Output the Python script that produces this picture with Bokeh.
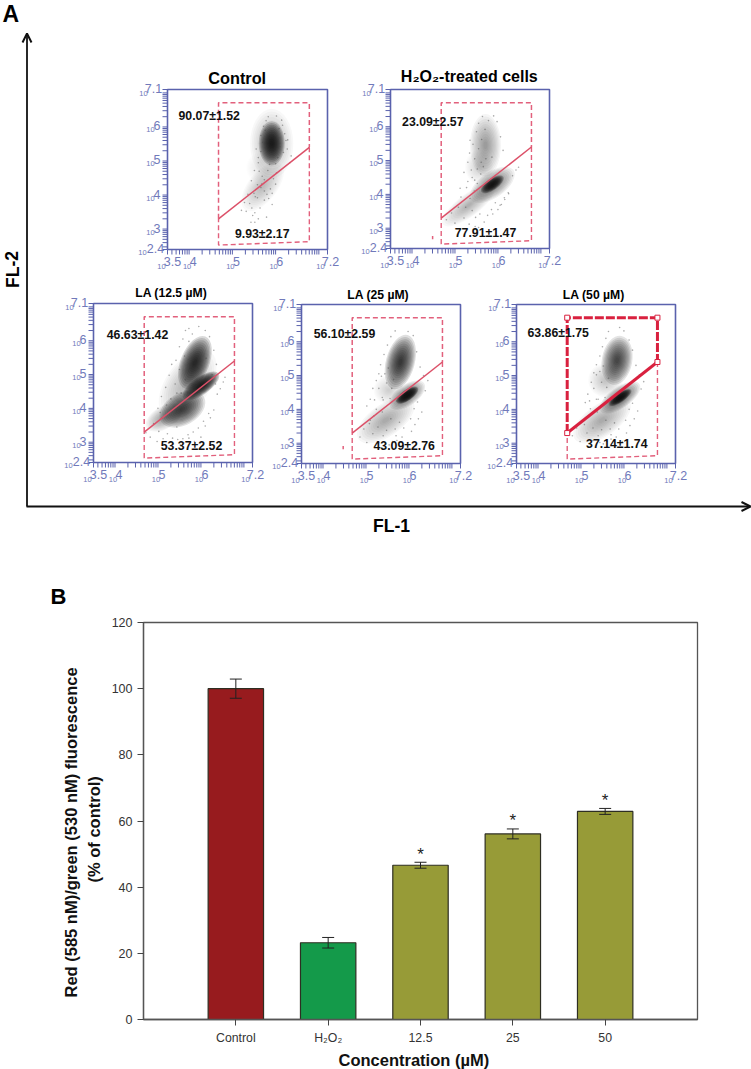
from bokeh.core.properties import value
from bokeh.embed import file_html
from bokeh.layouts import column
from bokeh.models import Arrow, ColumnDataSource, FixedTicker, OpenHead, Range1d, TeeHead, Title, Whisker
from bokeh.plotting import figure
from bokeh.resources import INLINE
import math

FONT = "Liberation Sans"

# ---------- Panel B data ----------
bar_labels = ["Control", "H₂O₂", "12.5", "25", "50"]
bar_values = [100.0, 23.2, 46.63, 56.1, 62.9]
bar_errors = [2.9, 1.6, 0.9, 1.5, 0.9]
bar_colors = ["#971b1e", "#149a4a", "#979b37", "#979b37", "#979b37"]
bar_stars = ["", "", "*", "*", "*"]
y_ticks = [0, 20, 40, 60, 80, 100, 120]

# ---------- Panel A data ----------
panel_names = ["Control", "H₂O₂-treated cells", "LA (12.5 µM)", "LA (25 µM)", "LA (50 µM)"]
upper_pct = ["90.07±1.52", "23.09±2.57", "46.63±1.42", "56.10±2.59", "63.86±1.75"]
lower_pct = ["9.93±2.17", "77.91±1.47", "53.37±2.52", "43.09±2.76", "37.14±1.74"]
decade_labels = ["4", "5", "6"]
y_decade_labels = ["3", "4", "5", "6"]
log_multipliers = [1, 2, 3, 4, 5, 6, 7, 8, 9]

gate_left, gate_right, gate_top = 4.68, 6.78, 6.71
gate_line_left, gate_line_right = 3.30, 5.40
gate_bottom_left, gate_bottom_right = 2.53, 2.63

# density blobs per panel: x, y (log10), long axis (x-dex), short axis (y-dex), angle, darkness
clouds_control = [
    (5.91, 5.51, 1.00, 2.05, 0, 0.30),
    (5.91, 5.52, 0.60, 1.30, 0, 0.92),
    (5.70, 4.25, 1.35, 0.85, 52, 0.26),
    (5.62, 4.80, 0.60, 0.90, 0, 0.08),
]
clouds_h2o2 = [
    (5.71, 5.45, 0.72, 1.85, 0, 0.42),
    (5.56, 4.81, 0.65, 1.00, 0, 0.16),
    (5.32, 3.68, 1.50, 0.66, 37, 0.30),
    (5.87, 4.28, 1.20, 0.76, 35, 0.55),
    (5.87, 4.30, 0.62, 0.34, 35, 0.96),
]
clouds_la125 = [
    (5.69, 4.71, 1.85, 1.30, 55, 0.30),
    (5.86, 5.36, 1.30, 0.85, 68, 0.88),
    (5.15, 3.73, 0.95, 0.66, 30, 0.42),
    (5.57, 3.98, 1.15, 0.95, 30, 0.78),
    (6.00, 4.67, 1.00, 0.52, 35, 0.94),
]
clouds_la25 = [
    (5.80, 5.40, 1.30, 0.85, 75, 0.82),
    (5.53, 4.57, 0.70, 0.85, 0, 0.18),
    (5.46, 3.68, 1.55, 0.95, 35, 0.34),
    (5.96, 4.42, 0.96, 0.62, 35, 0.60),
    (5.96, 4.42, 0.60, 0.32, 35, 0.98),
]
clouds_la50 = [
    (5.84, 5.45, 1.15, 0.90, 80, 0.76),
    (5.57, 4.86, 0.80, 1.00, 0, 0.20),
    (5.49, 3.68, 1.55, 0.95, 35, 0.36),
    (5.91, 4.35, 1.10, 0.62, 35, 0.62),
    (5.91, 4.35, 0.62, 0.28, 35, 0.97),
]
panel_clouds = [clouds_control, clouds_h2o2, clouds_la125, clouds_la25, clouds_la50]

# isolated events estimated by eye from the cloud outskirts (log10 x, log10 y)
specks_control_x = [5.32,5.40,5.47,5.53,5.58,5.64,5.69,5.74,5.79,5.86,5.92,6.02,6.08,6.14,6.21,6.27,6.33,5.21,5.28,5.36,5.44,5.51,5.60,5.66,5.78,5.83,6.02,6.16,6.28,6.36,5.55,5.66,5.72,5.52,5.43,5.60,5.70,5.76,5.50,5.58,5.66,5.74,5.82,5.88,5.95,6.00,6.05,6.10,6.18,6.24,5.62,5.68,5.74,5.80,5.45,5.52,5.60,5.84,5.92,6.00]
specks_control_y = [3.52,3.75,3.40,3.95,4.30,3.62,4.55,3.85,3.35,4.90,3.72,4.65,5.95,6.20,5.80,5.35,4.95,3.55,3.78,4.02,4.42,4.72,4.95,5.28,6.18,6.30,6.32,6.05,5.62,5.15,5.35,5.75,6.02,3.20,3.20,5.10,5.55,5.90,4.05,3.92,4.22,4.45,4.72,4.18,4.48,4.92,5.10,5.42,5.25,5.60,4.70,4.32,4.12,4.02,3.62,3.48,3.30,3.90,4.05,4.32]
specks_h2o2_x = [4.80,4.92,5.00,5.08,5.14,5.21,5.27,5.33,5.40,5.47,5.55,5.61,5.68,5.76,5.85,6.05,6.15,6.25,6.34,6.42,6.48,5.12,5.21,5.30,5.34,5.42,5.50,5.55,5.64,5.90,5.98,6.06,6.12,5.78,5.35,5.25,5.35,5.45,5.52,5.60,5.66,5.72,5.40,5.48,5.58,5.30,5.38,5.46,5.55,5.62,5.70,6.00,6.08,6.16,6.24,5.88,5.94,5.46,5.52,5.86]
specks_h2o2_y = [3.25,3.45,3.15,3.62,3.92,3.30,4.20,3.12,4.50,3.05,3.02,4.95,3.18,3.38,3.55,3.68,3.90,4.02,4.55,4.72,4.80,4.18,4.65,4.95,5.22,5.48,5.85,6.10,6.30,6.32,6.15,5.70,5.30,6.18,5.60,3.62,3.88,4.10,4.32,4.60,4.82,5.05,3.52,3.32,3.42,4.38,4.72,5.05,5.35,5.62,5.92,3.55,3.70,3.85,4.05,3.42,3.75,4.42,4.75,5.10]
specks_la125_x = [4.72,4.82,4.90,4.98,5.05,5.12,5.20,5.28,5.36,5.44,5.52,5.60,5.72,5.85,6.00,6.10,6.22,6.30,6.38,6.45,6.52,6.56,5.00,5.08,5.18,5.26,5.32,5.42,5.50,5.58,5.64,6.20,6.30,6.36,6.10,5.95,5.72,5.02,5.10,5.22,5.34,5.46,5.58,5.70,5.82,5.94,6.06,6.18,5.30,5.40,5.50,5.62,5.72,5.80,6.12,6.26,6.34,5.44,5.54,5.64]
specks_la125_y = [3.28,3.15,3.55,3.02,3.88,3.10,4.10,3.00,2.95,4.45,2.92,2.98,3.12,3.02,3.15,3.48,3.72,3.95,4.42,4.58,4.78,4.92,4.00,4.35,4.62,4.98,5.30,5.42,5.82,6.05,6.30,6.12,5.72,5.30,6.30,6.42,6.36,3.32,3.72,3.25,3.12,3.08,3.10,3.22,3.30,3.42,3.62,3.85,4.28,4.72,5.15,5.55,5.98,6.20,5.48,5.00,4.72,3.45,4.45,4.85]
specks_la25_x = [4.86,4.95,5.02,5.10,5.16,5.24,5.30,5.38,5.46,5.54,5.62,5.72,5.84,5.98,6.06,6.14,6.22,6.30,6.38,6.44,5.02,5.10,5.16,5.24,5.30,5.34,5.42,5.50,5.58,5.68,5.98,6.10,6.18,6.26,6.34,5.08,5.18,5.28,5.38,5.48,5.58,5.68,5.78,5.88,6.04,6.12,6.20,5.20,5.30,5.40,5.48,5.56,5.64,5.72,5.36,5.44,5.52,5.60,5.40,5.70]
specks_la25_y = [3.18,3.42,3.02,3.68,3.28,4.00,3.02,4.35,2.98,2.95,3.05,3.08,3.18,3.02,3.35,3.55,3.72,3.92,4.55,4.85,4.10,4.30,4.62,4.85,5.05,5.32,5.62,5.90,6.15,6.32,6.30,6.18,5.70,5.25,5.00,3.58,3.80,3.48,3.92,3.38,3.72,3.42,3.62,3.45,3.72,4.02,4.22,4.28,4.62,4.28,4.78,4.32,4.88,4.25,4.98,5.05,5.22,4.62,3.22,3.22]
specks_la50_x = [4.80,4.90,4.98,5.06,5.14,5.22,5.28,5.36,5.44,5.52,5.60,5.70,5.82,5.96,6.06,6.14,6.24,6.32,6.40,6.46,5.10,5.16,5.24,5.30,5.36,5.44,5.50,5.58,5.64,5.90,6.00,6.12,6.20,6.28,6.36,5.08,5.18,5.28,5.38,5.48,5.58,5.68,5.78,5.88,6.04,6.12,6.20,5.20,5.30,5.40,5.48,5.56,5.64,5.72,5.36,5.44,5.52,5.60,5.40,5.70]
specks_la50_y = [3.22,3.45,3.05,3.68,3.30,4.02,3.08,4.30,3.02,2.98,3.05,3.12,3.18,3.05,3.30,3.52,3.72,3.95,4.60,4.82,4.20,4.45,4.80,5.08,5.32,5.58,5.85,6.10,6.30,6.42,6.32,6.05,5.75,5.30,5.02,3.55,3.78,3.45,3.92,3.40,3.68,3.42,3.60,3.42,3.68,4.00,4.18,4.25,4.62,4.30,4.80,4.35,4.92,4.28,5.02,5.12,5.28,4.65,3.22,3.25]
panel_specks = [
    (specks_control_x, specks_control_y),
    (specks_h2o2_x, specks_h2o2_y),
    (specks_la125_x, specks_la125_y),
    (specks_la25_x, specks_la25_y),
    (specks_la50_x, specks_la50_y),
]

# ---------- Layout (page pixels) ----------
PW, HA = 751, 610
HB = 1069 - HA
BOXES = [(167, 327, 89, 249), (390, 549, 89, 248), (93, 252, 303, 462), (301, 460, 304, 463), (516, 675, 304, 463)]
TITLE_POS = [(236.7, 77.5, 16.3), (468.8, 76, 16), (170.7, 292, 12.2), (377.7, 294.5, 12.2), (593.3, 294, 12.2)]
UP_POS = [(208.7, 115.7), (432.3, 121), (137, 334.3), (344, 333.3), (557.7, 332.3)]
LOW_POS = [(261.7, 233.3), (485, 232.7), (191, 445), (403.7, 445.7), (616.3, 443.3)]
BLUE, BLUE_TXT = "#5a62ad", "#7079ba"
GATE, GATE_DARK = "#e2607c", "#d9213f"

XMIN, XMAX, YMIN, YMAX = 3.5, 7.2, 2.4, 7.1
LAYER_SCALES = [1.0, 0.92, 0.84, 0.76, 0.68, 0.60, 0.52, 0.44, 0.36, 0.28, 0.20, 0.12]

pa = figure(width=PW, height=HA, output_backend="svg", toolbar_location=None, x_axis_type=None, y_axis_type=None,
            x_range=Range1d(0, PW), y_range=Range1d(HA, 0), min_border=0, outline_line_color=None, frame_align=False)
pa.grid.visible = False


def txt(p, x, y, s, size, color="#000000", bold=False, align="center", angle=0, **kw):
    p.text(x=[x], y=[y], text=[s], text_font=value(FONT), text_font_size=f"{size}px",
           text_font_style="bold" if bold else "normal", text_color=color,
           text_align=align, text_baseline="middle", angle=[angle], **kw)


txt(pa, 2, 13, "A", 23, bold=True, align="left")
txt(pa, 50, 596, "B", 22, bold=True, align="left")
txt(pa, 391, 525, "FL-1", 17.5, bold=True)
txt(pa, 12, 269, "FL-2", 17.5, bold=True, angle=math.pi / 2)
for xs, ys, xe, ye in [(26.5, 506, 26.5, 33), (26, 506, 750, 506)]:
    pa.add_layout(Arrow(end=OpenHead(size=9, line_width=2, line_color="#111111"), x_start=xs, y_start=ys, x_end=xe, y_end=ye,
                        line_color="#111111", line_width=1.8))

for i, (L, R, T, B) in enumerate(BOXES):
    xname, yname = f"x{i}", f"y{i}"
    sx = (XMAX - XMIN) / (R - L)
    sy = (YMAX - YMIN) / (B - T)
    pa.extra_x_ranges[xname] = Range1d(XMIN - sx * L, XMIN - sx * L + sx * PW)
    pa.extra_y_ranges[yname] = Range1d(YMIN + (B - HA) * sy, YMIN + B * sy)
    kw = dict(x_range_name=xname, y_range_name=yname)

    # density blobs
    for (cx, cy, w, h, ang, dark) in panel_clouds[i]:
        a = 1 - (1 - dark) ** (1 / len(LAYER_SCALES))
        for s in LAYER_SCALES:
            pa.ellipse(x=[cx], y=[cy], width=[w * s], height=[h * s], angle=[math.radians(ang)],
                       fill_color="#111111", fill_alpha=a, line_color=None, **kw)
    spx, spy = panel_specks[i]
    pa.scatter(x=spx, y=spy, size=1.6, marker="circle", fill_color="#444444", fill_alpha=0.45, line_color=None, **kw)

    # frame
    pa.multi_line(xs=[[XMIN, XMAX, XMAX, XMIN, XMIN]], ys=[[YMIN, YMIN, YMAX, YMAX, YMIN]], line_color=BLUE, line_width=1.6, **kw)

    # log ticks
    xt = [d + math.log10(m) for d in range(3, 8) for m in log_multipliers]
    xt = [v for v in xt if XMIN <= v <= XMAX] + [XMIN, XMAX]
    yt = [d + math.log10(m) for d in range(2, 8) for m in log_multipliers]
    yt = [v for v in yt if YMIN <= v <= YMAX] + [YMIN, YMAX]
    pa.segment(x0=xt, x1=xt, y0=[YMIN] * len(xt), y1=[YMIN - 5 * sy] * len(xt), line_color=BLUE, line_width=1, **kw)
    pa.segment(x0=[XMIN] * len(yt), x1=[XMIN - 5 * sx] * len(yt), y0=yt, y1=yt, line_color=BLUE, line_width=1, **kw)

    # tick labels: small base "10" and larger exponent
    for lab, v, dx10, dxe in [("3.5", XMIN, -6, 5)] + [(d, float(d), -2, 4) for d in decade_labels] + [("7.2", XMAX, -7, 3)]:
        txt(pa, v, YMIN, "10", 7.5, BLUE_TXT, x_offset=dx10, y_offset=17, **kw)
        txt(pa, v, YMIN, lab, 12.5, BLUE_TXT, x_offset=dxe, y_offset=12, **kw)
    for lab, v, dx10, dxe, dy10 in [("2.4", YMIN, -25, -12, 3), ("7.1", YMAX, -24, -14, 4)] + [(d, float(d), -17, -10.5, 3) for d in y_decade_labels]:
        txt(pa, XMIN, v, "10", 7.5, BLUE_TXT, x_offset=dx10, y_offset=dy10, **kw)
        txt(pa, XMIN, v, lab, 12.5, BLUE_TXT, x_offset=dxe, y_offset=-1, **kw)

    # gates
    dash = "5 3"
    heavy = i == 4
    if not heavy:
        pa.line(x=[gate_left, gate_left, gate_right, gate_right], y=[gate_line_left, gate_top, gate_top, gate_line_right],
                line_color=GATE, line_width=1.5, line_dash=dash, **kw)
    pa.line(x=[gate_right, gate_right, gate_left, gate_left], y=[gate_line_right, gate_bottom_right, gate_bottom_left, gate_line_left],
            line_color=GATE, line_width=1.4, line_dash=dash, **kw)
    pa.line(x=[gate_left, gate_right], y=[gate_line_left, gate_line_right], line_color=GATE_DARK if heavy else "#dc5068",
            line_width=3 if heavy else 1.5, **kw)
    if heavy:
        pa.line(x=[gate_left, gate_left, gate_right, gate_right], y=[gate_line_left, gate_top, gate_top, gate_line_right],
                line_color=GATE_DARK, line_width=3, line_dash="9 2", **kw)
        pa.scatter(x=[gate_left, gate_right, gate_right, gate_left], y=[gate_top, gate_top, gate_line_right, gate_line_left],
                   marker="square", size=5, fill_color="#ffffff", line_color=GATE_DARK, line_width=1, **kw)
    if i in (1, 3):  # stray gate nub left of the gate
        gx = 4.48 if i == 1 else 4.47
        gy = 2.72 if i == 1 else 2.87
        pa.segment(x0=[gx], x1=[gx], y0=[gy - 0.05], y1=[gy + 0.05], line_color=GATE, line_width=1.5, **kw)

    # texts
    tx, ty, ts = TITLE_POS[i]
    txt(pa, tx, ty, panel_names[i], ts, bold=True)
    txt(pa, UP_POS[i][0], UP_POS[i][1], upper_pct[i], 12.3, "#111111", bold=True)
    txt(pa, LOW_POS[i][0], LOW_POS[i][1], lower_pct[i], 12.3, "#111111", bold=True)

# ---------- Panel B ----------
bx = list(range(1, len(bar_values) + 1))
pb = figure(width=PW, height=HB, output_backend="svg", toolbar_location=None, x_range=Range1d(0, 6), y_range=Range1d(0, 120),
            min_border_left=143, min_border_right=54, min_border_top=622 - HA, min_border_bottom=49, frame_align=False,
            outline_line_color="#555555", outline_line_width=1.3)
pb.grid.visible = False
pb.vbar(x=bx, top=bar_values, width=0.6, fill_color=bar_colors, line_color="#2e2e22", line_width=1.2)
upper = [v + e for v, e in zip(bar_values, bar_errors)]
lower = [v - e for v, e in zip(bar_values, bar_errors)]
pb.add_layout(Whisker(source=ColumnDataSource(dict(base=bx, upper=upper, lower=lower)), base="base", upper="upper", lower="lower",
                      line_color="#222222", line_width=1, level="overlay",
                      upper_head=TeeHead(size=12, line_color="#222222", line_width=1),
                      lower_head=TeeHead(size=12, line_color="#222222", line_width=1)))
pb.text(x=bx, y=upper, text=bar_stars, text_font=value(FONT), text_font_size="17px", text_color="#222222",
        text_align="center", text_baseline="middle", y_offset=-8)

pb.xaxis.ticker = FixedTicker(ticks=bx)
pb.xaxis.major_label_overrides = {i + 1: s for i, s in enumerate(bar_labels)}
pb.yaxis.ticker = FixedTicker(ticks=y_ticks)
for ax in (pb.xaxis[0], pb.yaxis[0]):
    ax.axis_line_color = "#555555"
    ax.axis_line_width = 1.3
    ax.major_tick_line_color = "#444444"
    ax.major_tick_line_width = 1
    ax.major_tick_in = 0
    ax.major_tick_out = 6
    ax.minor_tick_line_color = None
    ax.major_label_text_font = FONT
    ax.major_label_text_color = "#333333"
    ax.major_label_standoff = 5
pb.xaxis.major_label_text_font_size = "12.3px"
pb.yaxis.major_label_text_font_size = "12.5px"


def side_title(s, side, offset, standoff, line_height=1.2):
    pb.add_layout(Title(text=s, align="left", offset=offset, standoff=standoff, text_font=FONT, text_line_height=line_height,
                        text_font_size="16.5px", text_font_style="bold", text_color="#111111"), side)


side_title("(% of control)", "left", 137, 11, 1.0)
side_title("Red (585 nM)/green (530 nM) fluorescence", "left", 22, -5, 1.0)
side_title("Concentration (µM)", "below", 195, 2)

page = column(pa, pb, spacing=0)
open("out.html", "w").write(file_html(page, INLINE))
